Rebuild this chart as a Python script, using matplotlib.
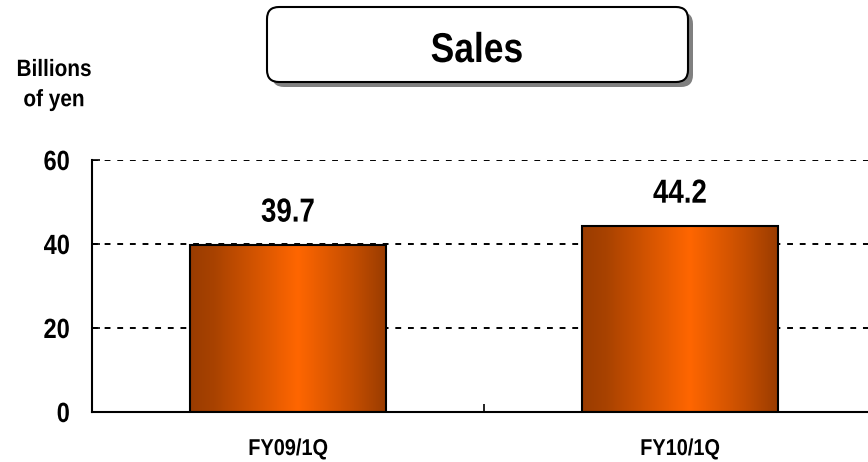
import numpy as np
import matplotlib
matplotlib.use('Agg')
import matplotlib.pyplot as plt
from matplotlib.colors import LinearSegmentedColormap
from matplotlib.patches import FancyBboxPatch
from matplotlib.patheffects import AbstractPathEffect
from matplotlib.transforms import IdentityTransform, Affine2D

# --- Data ---
categories = ['FY09/1Q', 'FY10/1Q']
sales = [39.7, 44.2]
y_ticks = [0, 20, 40, 60]
title = 'Sales'
unit_label = 'Billions\nof yen'

plt.rcParams['font.family'] = ['Liberation Sans', 'DejaVu Sans']
plt.rcParams['font.weight'] = 'bold'


class Squeeze(AbstractPathEffect):
    """Squash text horizontally to imitate a narrow font (no Arial Narrow here)."""
    def __init__(self, sx=0.85, anchor='center'):
        super().__init__()
        self.sx = sx
        self.anchor = anchor

    def draw_path(self, renderer, gc, tpath, affine, rgbFace=None):
        ext = tpath.get_extents()
        cx = ext.x1 if self.anchor == 'right' else (ext.x0 + ext.x1) / 2
        t = Affine2D().translate(-cx, 0).scale(self.sx, 1).translate(cx, 0) + affine
        renderer.draw_path(gc, tpath, t, rgbFace)


W, H = 868, 462
fig = plt.figure(figsize=(W / 100, H / 100), dpi=100)
ax = fig.add_axes([92 / W, 50 / H, 784 / W, 252 / H])

x = np.arange(len(categories))
bars = ax.bar(x, sales, width=0.5, color='none', edgecolor='black',
              linewidth=1.5, zorder=3)

# horizontal gradient inside each bar: dark edges, bright orange centre
grad_cmap = LinearSegmentedColormap.from_list(
    'bar', [(0.0, '#9a3c00'), (0.12, '#a84200'), (0.55, '#ff6600'),
            (0.85, '#c04c00'), (1.0, '#9a3c00')])
grad = np.linspace(0, 1, 256).reshape(1, -1)
for b in bars:
    x0, w, h = b.get_x(), b.get_width(), b.get_height()
    im = ax.imshow(grad, cmap=grad_cmap, aspect='auto',
                   extent=(x0, x0 + w, 0, h), zorder=2, interpolation='bicubic')
    im.set_clip_path(b)

ax.set_xlim(-0.5, 1.5)
ax.set_ylim(0, 60)

ax.set_yticks(y_ticks)
ax.set_yticklabels([str(t) for t in y_ticks], fontsize=20)
ax.yaxis.grid(True, linestyle=(0, (3, 3.5)), color='black', linewidth=1.4)
ax.set_axisbelow(True)

# separator tick between categories, labels on minor ticks
ax.set_xticks([0.5])
ax.set_xticklabels([''])
ax.set_xticks(x, minor=True)
ax.set_xticklabels(categories, minor=True, fontsize=16.5)
ax.tick_params(axis='x', which='minor', length=0, pad=18)
ax.tick_params(axis='both', which='major', direction='in', length=6,
               width=1.2, color='black')
ax.tick_params(axis='y', pad=15.8)

for lbl in ax.get_yticklabels():
    lbl.set_path_effects([Squeeze(0.85, 'right')])
for lbl in ax.get_xticklabels(minor=True):
    lbl.set_path_effects([Squeeze(0.87)])

for s in ['top', 'right']:
    ax.spines[s].set_visible(False)
for s in ['left', 'bottom']:
    ax.spines[s].set_linewidth(1.5)

for xi, v in zip(x, sales):
    ax.annotate(f'{v:.1f}', (xi, v), xytext=(0, 12), textcoords='offset points',
                ha='center', va='bottom', fontsize=24, fontweight='bold',
                path_effects=[Squeeze(0.83)])

# title box with drop shadow, in pixel coordinates
pix = IdentityTransform()
shadow = FancyBboxPatch((272, 375), 421, 75, boxstyle='round,pad=0,rounding_size=12',
                        facecolor='#808080', edgecolor='none', transform=pix)
box = FancyBboxPatch((267, 380), 421, 75, boxstyle='round,pad=0,rounding_size=12',
                     facecolor='white', edgecolor='black', linewidth=1.5, transform=pix)
fig.add_artist(shadow)
fig.add_artist(box)
fig.text(477 / W, 1 - 62 / H, title, ha='center', va='baseline',
         fontsize=30, fontweight='bold', path_effects=[Squeeze(0.85)])

fig.text(54 / W, 1 - 58 / H, unit_label, ha='center', va='top',
         fontsize=17, fontweight='bold', linespacing=1.4,
         path_effects=[Squeeze(0.88)])

fig.savefig('out.png', dpi=100)
